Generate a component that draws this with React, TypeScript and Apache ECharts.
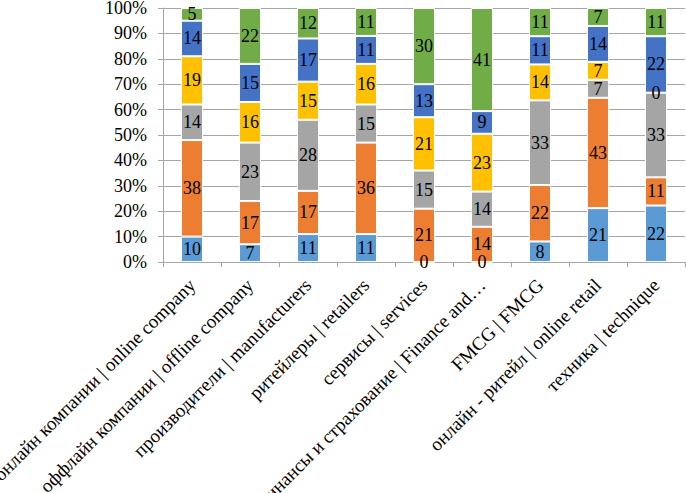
import React, { useEffect, useRef } from "react";
import * as echarts from "echarts";

const categories = [
  "онлайн компании | online company",
  "оффлайн компании | offline company",
  "производители | manufacturers",
  "ритейлеры | retailers",
  "сервисы | services",
  "финансы и страхование | Finance and…",
  "FMCG | FMCG",
  "онлайн - ритейл | online retail",
  "техника | technique",
];

const series1 = [10, 7, 11, 11, 0, 0, 8, 21, 22];
const series2 = [38, 17, 17, 36, 21, 14, 22, 43, 11];
const series3 = [14, 23, 28, 15, 15, 14, 33, 7, 33];
const series4 = [19, 16, 15, 16, 21, 23, 14, 7, 0];
const series5 = [14, 15, 17, 11, 13, 9, 11, 14, 22];
const series6 = [5, 22, 12, 11, 30, 41, 11, 7, 11];

const seriesNames = ["Ряд 1", "Ряд 2", "Ряд 3", "Ряд 4", "Ряд 5", "Ряд 6"];
const colors = ["#5B9BD5", "#ED7D31", "#A5A5A5", "#FFC000", "#4472C4", "#70AD47"];

const yTicks = [0, 10, 20, 30, 40, 50, 60, 70, 80, 90, 100];

const FONT = '"Liberation Serif", "Times New Roman", serif';

export default function App() {
  const ref = useRef<HTMLDivElement>(null);

  useEffect(() => {
    document.body.style.margin = "0";
    if (!ref.current) return;
    const chart = echarts.init(ref.current, null, { renderer: "svg" });
    const all = [series1, series2, series3, series4, series5, series6];
    const totals = categories.map((_, i) => all.reduce((s, arr) => s + arr[i], 0));

    const series = all.map((arr, si) => ({
      name: seriesNames[si],
      type: "bar",
      stack: "total",
      barWidth: 22,
      data: arr.map((v, i) => ({ value: (v / totals[i]) * 100, raw: v })),
      itemStyle: { color: colors[si], borderColor: "#ffffff", borderWidth: 1 },
      label: {
        show: true,
        position: "inside",
        color: "#000",
        fontFamily: FONT,
        fontSize: 18,
        formatter: (p: any) => String(p.data.raw),
      },
    }));

    chart.setOption({
      animation: false,
      textStyle: { fontFamily: FONT },
      grid: {
        left: 163,
        right: 1,
        top: 8,
        bottom: 231,
        containLabel: false,
        outerBoundsMode: "none",
      },
      xAxis: {
        type: "category",
        data: categories,
        axisLine: { show: true, lineStyle: { color: "#a6a6a6", width: 1 } },
        axisTick: { show: true, length: 5, lineStyle: { color: "#a6a6a6" } },
        axisLabel: {
          rotate: 45,
          interval: 0,
          margin: 20,
          color: "#000",
          fontFamily: FONT,
          fontSize: 19,
        },
      },
      yAxis: {
        type: "value",
        min: yTicks[0],
        max: yTicks[yTicks.length - 1],
        interval: 10,
        axisLine: { show: true, lineStyle: { color: "#a6a6a6", width: 1 } },
        axisTick: { show: true, length: 5, lineStyle: { color: "#a6a6a6" } },
        splitLine: { show: true, lineStyle: { color: "#a6a6a6", width: 1 } },
        axisLabel: {
          margin: 16,
          color: "#000",
          fontFamily: FONT,
          fontSize: 18,
          formatter: "{value}%",
        },
      },
      series,
    });

    return () => chart.dispose();
  }, []);

  return <div ref={ref} style={{ width: 686, height: 493 }} />;
}
